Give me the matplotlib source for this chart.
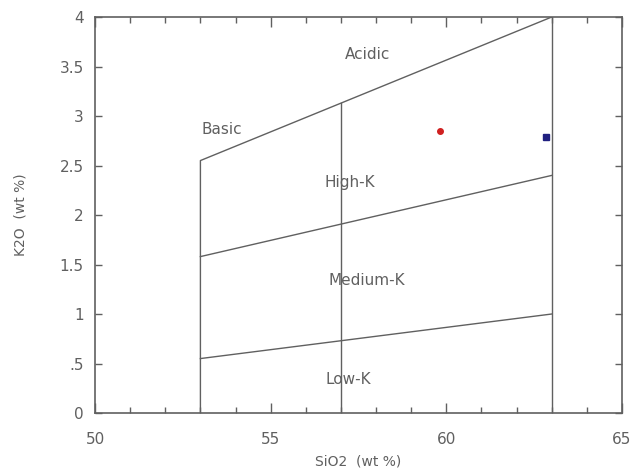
import matplotlib
matplotlib.use("Agg")
import matplotlib.pyplot as plt
from matplotlib.ticker import MultipleLocator

# boundary lines of the K2O vs SiO2 diagram
basic_x = [53, 53, 63]
basic_y = [0, 2.55, 4.0]
highk_x = [53, 63]
highk_y = [1.58, 2.4]
lowk_x = [53, 63]
lowk_y = [0.55, 1.0]
mid_x = [57, 57]
mid_y = [0, 3.13]
acid_x = [63, 63]
acid_y = [0, 4.0]

# samples
red_x = [59.82]
red_y = [2.85]
blue_x = [62.83]
blue_y = [2.79]

labels = ["Acidic", "Basic", "High-K", "Medium-K", "Low-K"]
label_x = [57.75, 53.6, 57.25, 57.75, 57.2]
label_y = [3.62, 2.86, 2.33, 1.34, 0.34]

yticks = [0, 0.5, 1, 1.5, 2, 2.5, 3, 3.5, 4]
yticklabels = ["0", ".5", "1", "1.5", "2", "2.5", "3", "3.5", "4"]
xticks = [50, 55, 60, 65]

grey = "#606060"
plt.rcParams["font.family"] = ["DejaVu Sans"]

fig = plt.figure(figsize=(6.39, 4.75), dpi=100)
ax = fig.add_axes([0.1487, 0.1305, 0.8247, 0.8337])

for xs, ys in [(basic_x, basic_y), (highk_x, highk_y), (lowk_x, lowk_y),
               (mid_x, mid_y), (acid_x, acid_y)]:
    ax.plot(xs, ys, color=grey, lw=1.0)

ax.plot(red_x, red_y, "o", color="#d02020", ms=4)
ax.plot(blue_x, blue_y, "s", color="#202080", ms=5)

for t, x, y in zip(labels, label_x, label_y):
    ax.text(x, y, t, ha="center", va="center", fontsize=11, color=grey)

ax.set_xlim(50, 65)
ax.set_ylim(0, 4)
ax.set_xticks(xticks)
ax.xaxis.set_minor_locator(MultipleLocator(1))
ax.set_yticks(yticks)
ax.set_yticklabels(yticklabels)
ax.tick_params(which="both", direction="in", top=True, right=True,
               colors=grey, labelsize=11, width=1)
ax.tick_params(which="major", length=7, pad=14)
ax.tick_params(which="minor", length=4)
ax.tick_params(axis="y", which="major", length=5, pad=8)
for s in ax.spines.values():
    s.set_color(grey)
    s.set_linewidth(1.2)

ax.set_xlabel("SiO2  (wt %)", fontsize=10, color=grey, labelpad=5)
ax.set_ylabel("K2O  (wt %)", fontsize=10, color=grey, labelpad=23)

fig.savefig("out.png", dpi=100)
